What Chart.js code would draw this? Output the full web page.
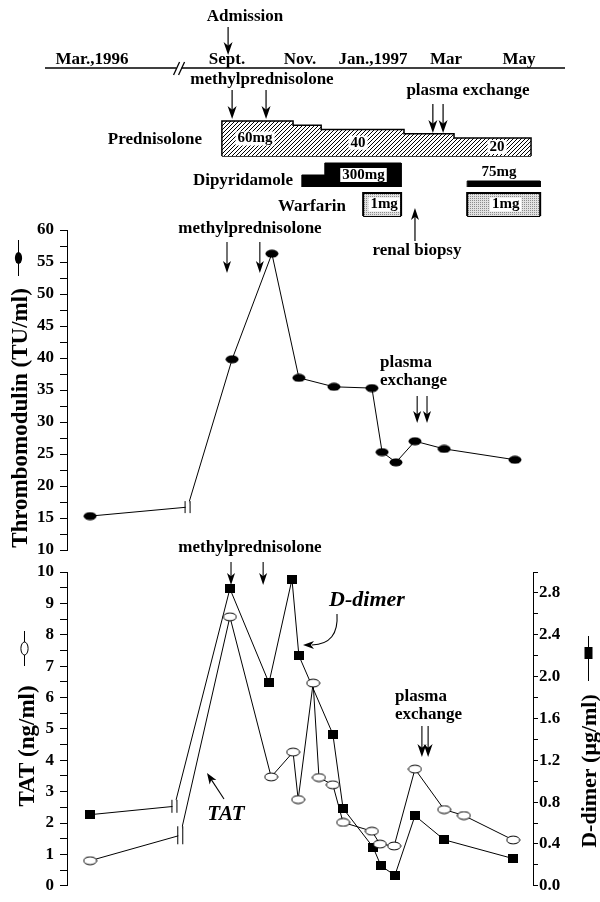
<!DOCTYPE html>
<html>
<head>
<meta charset="utf-8">
<script src="https://cdn.jsdelivr.net/npm/chart.js@4.4.1/dist/chart.umd.min.js"></script>
<style>
  html, body { margin: 0; padding: 0; background: #fff; }
  #wrap { position: relative; width: 600px; height: 902px; }
  #wrap canvas { position: absolute; left: 0; top: 0; }
</style>
</head>
<body>
<div id="wrap">
  <canvas id="treat" width="600" height="902"></canvas>
  <canvas id="tm" width="600" height="902"></canvas>
  <canvas id="coag" width="600" height="902"></canvas>
</div>
<script>
// time axis in months: Sept 1996 = 9, Jan 1997 = 13 ... (axis is broken and compressed before Sept)
const timeLabels = ['Mar.,1996', 'Sept.', 'Nov.', 'Jan.,1997', 'Mar', 'May'];
const timeTicks = [5.3, 9, 11, 13, 15, 17];
const timeBreak = 7.7;

// treatment (mg/day)
const predStart = [8.86, 10.81, 11.58, 13.85, 15.22];
const predEnd = [10.81, 11.58, 13.85, 15.22, 17.33];
const predDose = [60, 50, 40, 30, 20];
const dipStart = [11.05, 11.68, 15.58];
const dipEnd = [11.68, 13.77, 17.58];
const dipDose = [150, 300, 75];
const warStart = [12.73, 15.58];
const warEnd = [13.77, 17.58];
const warDose = [1, 1];

// events
const admissionAt = 9.03;
const biopsyAt = 14.15;
const mpTop = [9.14, 10.07], peTop = [14.64, 14.92];
const mpTM = [9.0, 9.9], peTM = [14.21, 14.48];
const mpCoag = [9.11, 9.99], peCoag = [14.34, 14.51];

// thrombomodulin (TU/ml)
const tmX = [5.25, 9.14, 10.23, 10.97, 11.93, 12.97, 13.25, 13.63, 14.15, 14.95, 16.89];
const tmVal = [15.3, 39.8, 56.3, 36.9, 35.5, 35.3, 25.3, 23.7, 27.0, 25.8, 24.1];
const tmBreak = [7.92, 16.7];

// TAT (ng/ml)
const tatX = [5.25, 9.08, 10.21, 10.81, 10.95, 11.36, 11.52, 11.90, 12.18, 12.97, 13.19, 13.58, 14.15, 14.95, 15.49, 16.84];
const tatVal = [0.80, 8.57, 3.47, 4.26, 2.75, 6.46, 3.45, 3.22, 2.02, 1.74, 1.33, 1.27, 3.72, 2.43, 2.24, 1.46];
const tatBreak = [7.72, 1.61];

// D-dimer (ug/ml)
const ddX = [5.25, 9.08, 10.15, 10.78, 10.97, 11.90, 12.18, 13.00, 13.22, 13.60, 14.15, 14.95, 16.84];
const ddVal = [0.68, 2.84, 1.94, 2.93, 2.20, 1.45, 0.74, 0.37, 0.19, 0.10, 0.67, 0.44, 0.26];
const ddBreak = [7.56, 0.76];

const SERIF = '"Liberation Serif", "DejaVu Serif", serif';
const bold = s => 'bold ' + s + 'px ' + SERIF;
const boldIt = s => 'italic bold ' + s + 'px ' + SERIF;

// layout of the shared time axis
const PX_SEPT = 227, PX_PER_MONTH = 36.5;
function monthRange(left, right) {
  return { min: 9 + (left - PX_SEPT) / PX_PER_MONTH, max: 9 + (right - PX_SEPT) / PX_PER_MONTH };
}
function axisRange(basePx, baseVal, pxPerUnit, top, bottom) {
  return { min: baseVal - (bottom - basePx) / pxPerUnit, max: baseVal + (basePx - top) / pxPerUnit };
}

// outline of consecutive dose blocks
function blocks(start, end, dose, base) {
  const pts = [];
  for (let i = 0; i < start.length; i++) {
    const joined = i > 0 && Math.abs(start[i] - end[i - 1]) < 1e-6;
    if (i > 0 && !joined) {
      pts.push({ x: end[i - 1], y: base });
      pts.push({ x: (end[i - 1] + start[i]) / 2, y: null });
    }
    if (!joined) pts.push({ x: start[i], y: base });
    pts.push({ x: start[i], y: dose[i] });
    pts.push({ x: end[i], y: dose[i] });
  }
  pts.push({ x: end[end.length - 1], y: base });
  return pts;
}
function bottoms(start, end, base) {
  const pts = [];
  let s = start[0];
  for (let i = 0; i < start.length; i++) {
    const last = i === start.length - 1;
    if (last || Math.abs(start[i + 1] - end[i]) > 1e-6) {
      pts.push({ x: s, y: base }, { x: end[i], y: base });
      if (!last) { pts.push({ x: (end[i] + start[i + 1]) / 2, y: null }); s = start[i + 1]; }
    }
  }
  return pts;
}
function withBreak(xs, ys, brk) {
  const pts = xs.map((x, i) => ({ x, y: ys[i] }));
  pts.splice(1, 0, { x: brk[0], y: brk[1], brk: true });
  return pts;
}

function hatchPattern() {
  const c = document.createElement('canvas'); c.width = 4; c.height = 4;
  const g = c.getContext('2d');
  g.fillStyle = '#fff'; g.fillRect(0, 0, 4, 4);
  g.strokeStyle = '#000'; g.lineWidth = 1;
  g.beginPath();
  g.moveTo(-1, 5); g.lineTo(5, -1);
  g.moveTo(-1, 1); g.lineTo(1, -1);
  g.moveTo(3, 5); g.lineTo(5, 3);
  g.stroke();
  return g.createPattern(c, 'repeat');
}
function stipplePattern() {
  const c = document.createElement('canvas'); c.width = 2; c.height = 2;
  const g = c.getContext('2d');
  g.fillStyle = '#e2e2e2'; g.fillRect(0, 0, 2, 2);
  g.fillStyle = '#8c8c8c'; g.fillRect(0, 0, 1, 1);
  return g.createPattern(c, 'repeat');
}
function mark(w, h, draw) {
  const c = document.createElement('canvas'); c.width = w; c.height = h;
  draw(c.getContext('2d'));
  return c;
}
const tmMark = mark(14, 9, g => { g.fillStyle = '#000'; g.beginPath(); g.ellipse(7, 4.5, 6.5, 4, 0, 0, 2 * Math.PI); g.fill(); });
const tatMark = mark(15, 10, g => { g.fillStyle = '#fff'; g.strokeStyle = '#000'; g.lineWidth = 1; g.beginPath(); g.ellipse(7.5, 5, 6.5, 3.9, 0, 0, 2 * Math.PI); g.fill(); g.stroke(); });
const ddMark = mark(10, 9, g => { g.fillStyle = '#000'; g.fillRect(0, 0, 10, 9); });

// drawing helpers
function seg(ctx, x1, y1, x2, y2) { ctx.beginPath(); ctx.moveTo(x1, y1); ctx.lineTo(x2, y2); ctx.stroke(); }
function txt(ctx, s, x, y, font, align) {
  ctx.font = font; ctx.textAlign = align || 'center'; ctx.textBaseline = 'middle'; ctx.fillText(s, x, y);
}
function boxTxt(ctx, s, x, y, font) {
  ctx.font = font;
  const w = ctx.measureText(s).width;
  ctx.fillStyle = '#fff'; ctx.fillRect(x - w / 2 - 2, y - 7, w + 4, 14);
  ctx.fillStyle = '#000'; txt(ctx, s, x, y, font);
}
function vtxt(ctx, s, x, y, font) {
  ctx.save(); ctx.translate(x, y); ctx.rotate(-Math.PI / 2); txt(ctx, s, 0, 0, font); ctx.restore();
}
function head(ctx, x, y, a, len, half) {
  const c = Math.cos(a), s = Math.sin(a);
  const bx = x - c * len, by = y - s * len;
  ctx.beginPath();
  ctx.moveTo(x, y);
  ctx.lineTo(bx - s * half, by + c * half);
  ctx.lineTo(x - c * len * 0.72, y - s * len * 0.72);
  ctx.lineTo(bx + s * half, by - c * half);
  ctx.closePath(); ctx.fill();
}
function arrow(ctx, x1, y1, x2, y2, len, half) {
  len = len || 11; half = half || 4;
  const a = Math.atan2(y2 - y1, x2 - x1);
  seg(ctx, x1, y1, x2 - Math.cos(a) * len * 0.5, y2 - Math.sin(a) * len * 0.5);
  head(ctx, x2, y2, a, len, half);
}
function ellipse(ctx, x, y, rx, ry, filled) {
  ctx.beginPath(); ctx.ellipse(x, y, rx, ry, 0, 0, 2 * Math.PI);
  if (filled) ctx.fill(); else { ctx.fillStyle = '#fff'; ctx.fill(); ctx.fillStyle = '#000'; ctx.stroke(); }
}
function breakMark(ctx, chart, di, len) {
  const el = chart.getDatasetMeta(di).data[1];
  ctx.fillStyle = '#fff'; ctx.fillRect(el.x - 2, el.y - len / 2, 4, len);
  ctx.fillStyle = '#000'; ctx.lineWidth = 1;
  seg(ctx, el.x - 2.5, el.y - len / 2, el.x - 2.5, el.y + len / 2);
  seg(ctx, el.x + 2.5, el.y - len / 2, el.x + 2.5, el.y + len / 2);
}

const baseOpts = (padding) => ({
  responsive: false, animation: false, events: [],
  layout: { padding },
  plugins: { legend: { display: false }, tooltip: { enabled: false } }
});
const tickFont = { family: SERIF, size: 17, weight: 'bold' };
const AXIS_W = 67; // fixed box width for the value axes so the plot areas line up
function yAxis(min, max, step, position, label, tl, pad) {
  return {
    type: 'linear', position, min, max,
    afterFit: s => { s.width = AXIS_W; },
    ticks: { stepSize: step, autoSkip: false, color: '#000', font: tickFont, padding: pad, callback: label },
    grid: { drawOnChartArea: false, drawTicks: true, tickLength: tl, color: '#000', tickColor: '#000' },
    border: { display: true, color: '#000', width: 1 }
  };
}

// ---------- treatment schedule + timeline ----------
const TREAT = { left: 45, right: 565, top: 0, bottom: 228 };
const PRED_FLOOR = -22.4;
const predY = axisRange(156, PRED_FLOOR, 0.425, TREAT.top, TREAT.bottom);
const dipY = axisRange(187, 0, 0.08, TREAT.top, TREAT.bottom);
const warY = axisRange(216, 0, 23, TREAT.top, TREAT.bottom);
const noPt = { pointRadius: 0, tension: 0, borderColor: '#000', borderJoinStyle: 'miter' };

const treatDecor = {
  id: 'treatDecor',
  afterDraw(chart) {
    const ctx = chart.ctx, xs = chart.scales.x, a = chart.chartArea;
    const X = m => xs.getPixelForValue(m);
    ctx.save();
    ctx.fillStyle = '#000'; ctx.strokeStyle = '#000';
    // timeline
    ctx.lineWidth = 1.6;
    seg(ctx, a.left, 68, a.right, 68);
    timeLabels.forEach((t, i) => { ctx.font = bold(17); ctx.textAlign = 'center'; ctx.textBaseline = 'alphabetic'; ctx.fillText(t, X(timeTicks[i]), 64); });
    const bx = X(timeBreak);
    ctx.fillStyle = '#fff'; ctx.fillRect(bx - 3, 65, 5, 6); ctx.fillStyle = '#000';
    ctx.lineWidth = 1.3;
    seg(ctx, bx - 6, 75, bx, 62); seg(ctx, bx - 1, 75, bx + 5, 62);
    // admission
    txt(ctx, 'Admission', 245, 17, bold(17));
    ctx.lineWidth = 1.2;
    arrow(ctx, X(admissionAt), 27, X(admissionAt), 55, 13, 4.5);
    // pulses and plasma exchange
    txt(ctx, 'methylprednisolone', 262, 80, bold(17));
    mpTop.forEach(m => arrow(ctx, X(m), 90, X(m), 119, 13, 4.5));
    txt(ctx, 'plasma exchange', 468, 91, bold(17));
    peTop.forEach(m => arrow(ctx, X(m), 104, X(m), 133, 13, 4.5));
    // row titles
    txt(ctx, 'Prednisolone', 202, 140, bold(17), 'right');
    txt(ctx, 'Dipyridamole', 293, 181, bold(17), 'right');
    txt(ctx, 'Warfarin', 346, 207, bold(17), 'right');
    // dose labels
    const yp = chart.scales.yp, yd = chart.scales.yd, yw = chart.scales.yw;
    const predAt = m => predDose[Math.max(0, predStart.findIndex((s, i) => m >= s && m < predEnd[i]))];
    [['60mg', 9.77], ['40', 12.59], ['20', 16.4]].forEach(([s, m]) =>
      boxTxt(ctx, s, X(m), yp.getPixelForValue((PRED_FLOOR + predAt(m)) / 2), bold(15)));
    boxTxt(ctx, '300mg', X(12.74), yd.getPixelForValue(dipDose[1] / 2), bold(15));
    txt(ctx, '75mg', X(16.45), yd.getPixelForValue(dipDose[2]) - 9, bold(15));
    warStart.forEach((s, i) => boxTxt(ctx, warDose[i] + 'mg', X((s + warEnd[i]) / 2) + 2, yw.getPixelForValue(warDose[i] / 2), bold(15)));
    // renal biopsy
    ctx.lineWidth = 1.2;
    arrow(ctx, X(biopsyAt), 241, X(biopsyAt), 208, 12, 4);
    txt(ctx, 'renal biopsy', 417, 251, bold(17));
    ctx.restore();
  }
};

new Chart(document.getElementById('treat'), {
  type: 'line',
  data: {
    datasets: [
      { ...noPt, yAxisID: 'yp', data: blocks(predStart, predEnd, predDose, PRED_FLOOR), fill: { value: PRED_FLOOR }, backgroundColor: hatchPattern(), borderWidth: 1.5 },
      { ...noPt, yAxisID: 'yp', data: bottoms(predStart, predEnd, PRED_FLOOR), fill: false, borderWidth: 1.5 },
      { ...noPt, yAxisID: 'yd', data: blocks(dipStart, dipEnd, dipDose, 0), fill: { value: 0 }, backgroundColor: '#000', borderWidth: 1 },
      { ...noPt, yAxisID: 'yw', data: blocks(warStart, warEnd, warDose, 0), fill: { value: 0 }, backgroundColor: stipplePattern(), borderWidth: 2 },
      { ...noPt, yAxisID: 'yw', data: bottoms(warStart, warEnd, 0), fill: false, borderWidth: 2 }
    ]
  },
  options: {
    ...baseOpts({ left: TREAT.left, right: 600 - TREAT.right, top: TREAT.top, bottom: 902 - TREAT.bottom }),
    scales: {
      x: { type: 'linear', display: false, ...monthRange(TREAT.left, TREAT.right) },
      yp: { type: 'linear', display: false, ...predY },
      yd: { type: 'linear', display: false, ...dipY },
      yw: { type: 'linear', display: false, ...warY }
    }
  },
  plugins: [treatDecor]
});

// ---------- thrombomodulin ----------
const tmDecor = {
  id: 'tmDecor',
  afterDraw(chart) {
    const ctx = chart.ctx, X = m => chart.scales.x.getPixelForValue(m);
    ctx.save();
    ctx.fillStyle = '#000'; ctx.strokeStyle = '#000'; ctx.lineWidth = 1;
    breakMark(ctx, chart, 0, 12);
    vtxt(ctx, 'Thrombomodulin (TU/ml)', 21, 418, bold(23));
    seg(ctx, 18.5, 240, 18.5, 276);
    ellipse(ctx, 18.5, 258, 3.6, 6, true);
    txt(ctx, 'methylprednisolone', 250, 229, bold(17));
    ctx.lineWidth = 1.1;
    mpTM.forEach(m => arrow(ctx, X(m), 242, X(m), 273, 12, 4));
    txt(ctx, 'plasma', 380, 363, bold(17), 'left');
    txt(ctx, 'exchange', 380, 381, bold(17), 'left');
    peTM.forEach(m => arrow(ctx, X(m), 396, X(m), 423, 12, 4));
    ctx.restore();
  }
};

new Chart(document.getElementById('tm'), {
  type: 'line',
  data: {
    datasets: [{
      data: withBreak(tmX, tmVal, tmBreak),
      borderColor: '#000', borderWidth: 1, tension: 0, fill: false,
      pointStyle: tmMark, pointRadius: c => (c.raw && c.raw.brk) ? 0 : 6
    }]
  },
  options: {
    ...baseOpts({ left: 0, right: 600 - 533, top: 230, bottom: 352 }),
    scales: {
      x: { type: 'linear', display: false, ...monthRange(67, 533) },
      y: yAxis(10, 60, 2.5, 'left', v => (v % 5 === 0 ? v : ''), 7, 6)
    }
  },
  plugins: [tmDecor]
});

// ---------- TAT and D-dimer ----------
const coagDecor = {
  id: 'coagDecor',
  afterDraw(chart) {
    const ctx = chart.ctx, X = m => chart.scales.x.getPixelForValue(m);
    ctx.save();
    ctx.fillStyle = '#000'; ctx.strokeStyle = '#000'; ctx.lineWidth = 1;
    breakMark(ctx, chart, 0, 18);
    breakMark(ctx, chart, 1, 13);
    vtxt(ctx, 'TAT (ng/ml)', 28, 746, bold(23));
    seg(ctx, 24.5, 631, 24.5, 666);
    ellipse(ctx, 24.5, 648.5, 3.6, 6.5, false);
    vtxt(ctx, 'D-dimer (\u03bcg/ml)', 590, 771, bold(22));
    seg(ctx, 588.5, 636, 588.5, 681);
    ctx.fillRect(584.5, 647, 8, 12);
    txt(ctx, 'methylprednisolone', 250, 548, bold(17));
    ctx.lineWidth = 1.1;
    mpCoag.forEach(m => arrow(ctx, X(m), 562, X(m), 585, 12, 4));
    // D-dimer tag with curved arrow
    txt(ctx, 'D-dimer', 367, 600, boldIt(22));
    ctx.beginPath(); ctx.moveTo(337, 614); ctx.quadraticCurveTo(339, 644, 312, 645); ctx.stroke();
    head(ctx, 303, 645, Math.PI, 11, 4);
    // TAT tag
    txt(ctx, 'TAT', 226, 815, boldIt(21));
    arrow(ctx, 224, 799, 207, 773, 11, 4);
    txt(ctx, 'plasma', 395, 697, bold(17), 'left');
    txt(ctx, 'exchange', 395, 715, bold(17), 'left');
    peCoag.forEach(m => arrow(ctx, X(m), 726, X(m), 757, 13, 4.5));
    ctx.restore();
  }
};

new Chart(document.getElementById('coag'), {
  type: 'line',
  data: {
    datasets: [
      { data: withBreak(tatX, tatVal, tatBreak), yAxisID: 'y', borderColor: '#000', borderWidth: 1, tension: 0, fill: false,
        pointStyle: tatMark, pointRadius: c => (c.raw && c.raw.brk) ? 0 : 6 },
      { data: withBreak(ddX, ddVal, ddBreak), yAxisID: 'y2', borderColor: '#000', borderWidth: 1, tension: 0, fill: false,
        pointStyle: ddMark, pointRadius: c => (c.raw && c.raw.brk) ? 0 : 6 }
    ]
  },
  options: {
    ...baseOpts({ left: 0, right: 0, top: 572, bottom: 11 }),
    scales: {
      x: { type: 'linear', display: false, ...monthRange(67, 533) },
      y: yAxis(0, 10, 0.5, 'left', v => (Number.isInteger(v) ? v : ''), 7, 6),
      y2: yAxis(0, 3, 0.2, 'right', v => { const t = Math.round(v * 10); return (t % 4 === 0 && t <= 28) ? v.toFixed(1) : ''; }, 5, 1)
    }
  },
  plugins: [coagDecor]
});
</script>
</body>
</html>
